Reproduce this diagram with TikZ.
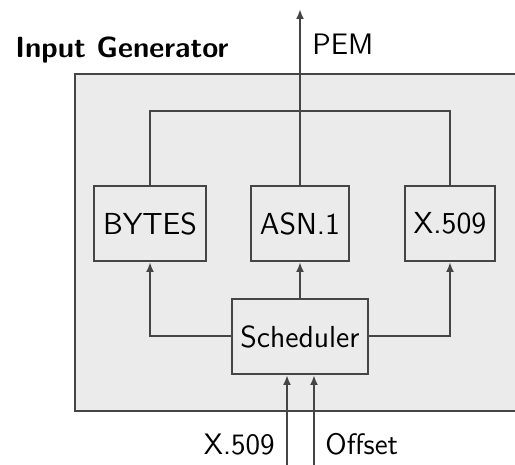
\documentclass[tikz,border=0pt]{standalone}
\usepackage{tikz}
\usetikzlibrary{positioning, arrows.meta}
\definecolor{panelgray}{HTML}{EBEBEB}
\definecolor{edgegray}{HTML}{454545}

\begin{document}
\begin{tikzpicture}[
    x=0.5pt, y=-0.5pt,
    >={Latex[length=5pt, width=4pt]},
    block/.style={rectangle, draw=edgegray, fill=panelgray, line width=1pt,
                  minimum height=37.5pt, inner sep=0pt,
                  font=\sffamily\fontsize{15.2}{17}\selectfont},
    wire/.style={draw=edgegray, line width=1pt},
    arrow/.style={wire, ->},
    lbl/.style={inner sep=0pt, font=\sffamily\fontsize{14.8}{17}\selectfont}
]
  \useasboundingbox (0,0) rectangle (515,465);

  % Generator panel
  \filldraw[fill=panelgray, draw=edgegray, line width=1pt] (75,74) rectangle (540,411);
  \node[lbl, anchor=base west, font=\sffamily\bfseries\fontsize{14.6}{17}\selectfont] (title) at (15,58) {Input Generator};

  % Modules
  \node[block, minimum width=56pt] (bytes) at (150,223.5) {BYTES};
  \node[block, minimum width=49pt] (asn) at (300,223.5) {ASN.1};
  \node[block, minimum width=45pt] (x509) at (450,223.5) {X.509};
  \node[block, minimum width=68pt] (sched) at (300,336.5) {Scheduler};

  % Output
  \coordinate (join) at (300,111);
  \coordinate (pem) at (300,9);
  \draw[wire] (bytes.north) |- (join) -| (x509.north);
  \draw[arrow] (asn.north) -- (pem);
  \node[lbl, anchor=base west] (pemlbl) at (312,55) {PEM};

  % Scheduler to modules
  \draw[arrow] (sched.west) -| (bytes.south);
  \draw[arrow] (sched) -- (asn);
  \draw[arrow] (sched.east) -| (x509.south);

  % Inputs
  \coordinate (inA) at (287,470);
  \coordinate (inB) at (314,470);
  \draw[arrow] (inA) -- (inA |- sched.south);
  \draw[arrow] (inB) -- (inB |- sched.south);
  \node[lbl, anchor=base east] (certlbl) at (275,454) {X.509};
  \node[lbl, anchor=base west] (offlbl) at (325,454) {Offset};
\end{tikzpicture}
\end{document}
